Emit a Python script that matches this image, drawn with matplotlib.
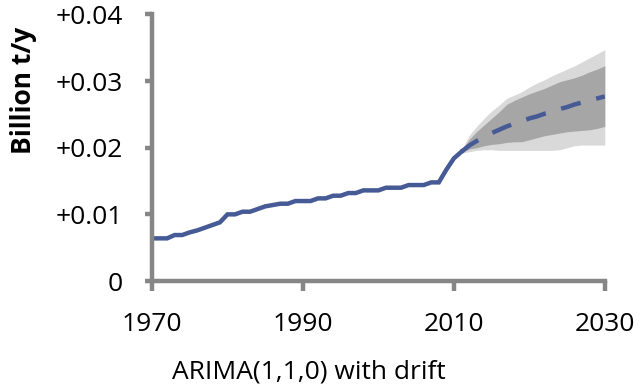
import numpy as np
import matplotlib.pyplot as plt

# Observed series (billion t/y)
years_obs = np.arange(1970, 2012)
obs = [0.0064, 0.0064, 0.0064, 0.0069, 0.0069, 0.0073, 0.0076, 0.0080, 0.0084, 0.0088,
       0.0100, 0.0100, 0.0104, 0.0104, 0.0108, 0.0112, 0.0114, 0.0116, 0.0116, 0.0120,
       0.0120, 0.0120, 0.0124, 0.0124, 0.0128, 0.0128, 0.0132, 0.0132, 0.0136, 0.0136,
       0.0136, 0.0140, 0.0140, 0.0140, 0.0144, 0.0144, 0.0144, 0.0148, 0.0148, 0.0167,
       0.0184, 0.0194]

# Forecast with 80% / 95% intervals
years_fc = np.arange(2011, 2031)
fc = [0.0194, 0.0203, 0.0210, 0.0216, 0.0222, 0.0227, 0.0232, 0.0236, 0.0240, 0.0244,
      0.0247, 0.0251, 0.0254, 0.0258, 0.0261, 0.0265, 0.0268, 0.0271, 0.0274, 0.0277]
hi95 = [0.0196, 0.0218, 0.0232, 0.0244, 0.0255, 0.0264, 0.0274, 0.0279, 0.0284, 0.0291,
        0.0297, 0.0302, 0.0308, 0.0313, 0.0318, 0.0323, 0.0329, 0.0335, 0.0341, 0.0347]
hi80 = [0.0195, 0.0212, 0.0224, 0.0234, 0.0244, 0.0254, 0.0265, 0.0271, 0.0276, 0.0281,
        0.0285, 0.0289, 0.0294, 0.0299, 0.0302, 0.0305, 0.0309, 0.0314, 0.0318, 0.0323]
lo80 = [0.0193, 0.0198, 0.0200, 0.0203, 0.0205, 0.0206, 0.0208, 0.0209, 0.0209, 0.0212,
        0.0215, 0.0218, 0.0220, 0.0222, 0.0224, 0.0225, 0.0226, 0.0227, 0.0229, 0.0232]
lo95 = [0.0192, 0.0194, 0.0196, 0.0197, 0.0197, 0.0196, 0.0196, 0.0196, 0.0196, 0.0196,
        0.0196, 0.0196, 0.0196, 0.0197, 0.0200, 0.0203, 0.0204, 0.0204, 0.0204, 0.0204]

x_ticks = [1970, 1990, 2010, 2030]
y_ticks = [0, 0.01, 0.02, 0.03, 0.04]
y_labels = ['0', '+0.01', '+0.02', '+0.03', '+0.04']

plt.rcParams['font.family'] = ['Open Sans', 'DejaVu Sans']
axis_col = '#868686'
line_col = '#465A96'

fig = plt.figure(figsize=(6.4, 3.91), dpi=100)
ax = fig.add_axes([0.2375, 0.2813, 0.7075, 0.6817])

ax.fill_between(years_fc, lo95, hi95, color='#D9D9D9', linewidth=0)
ax.fill_between(years_fc, lo80, hi80, color='#A6A6A6', linewidth=0)
ax.plot(years_obs, obs, color=line_col, linewidth=3.2, solid_joinstyle='miter')
ax.plot(years_fc, fc, color=line_col, linewidth=3.2, dashes=(4.6, 3.6))

ax.set_xlim(1970, 2030)
ax.set_ylim(0, 0.04)
ax.set_xticks(x_ticks)
ax.set_yticks(y_ticks)
ax.set_yticklabels(y_labels)

for side in ['top', 'right']:
    ax.spines[side].set_visible(False)
for side in ['left', 'bottom']:
    ax.spines[side].set_color(axis_col)
    ax.spines[side].set_linewidth(3.2)
ax.tick_params(axis='y', length=5, width=3.2, color=axis_col, pad=16, labelsize=19)
ax.tick_params(axis='x', length=7, width=3.2, color=axis_col, pad=15, labelsize=19)

ax.set_ylabel('Billion t/y', fontsize=19, fontweight='bold')
ax.yaxis.set_label_coords(-115 / 453, (281 - 90) / 266.5)
fig.text(309 / 640, 1 - 372 / 391, 'ARIMA(1,1,0) with drift', fontsize=19,
         ha='center', va='center')

fig.savefig('out.png', dpi=100)
